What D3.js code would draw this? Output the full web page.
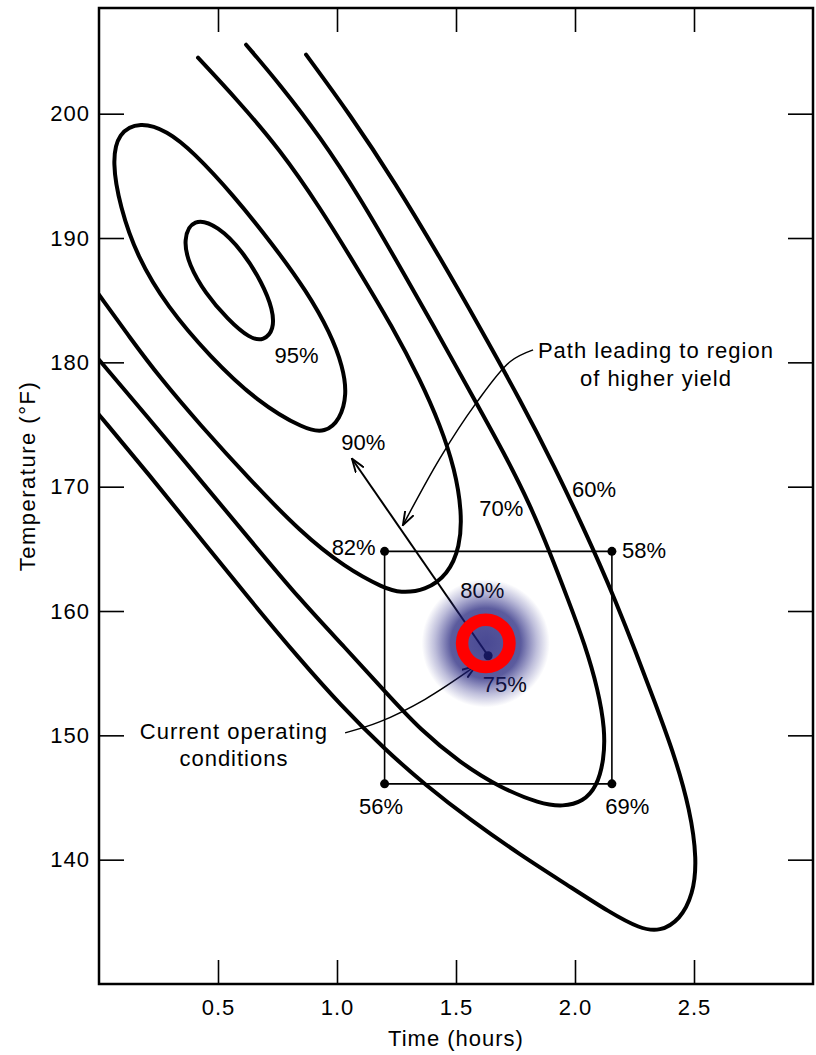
<!DOCTYPE html>
<html>
<head>
<meta charset="utf-8">
<script src="https://cdnjs.cloudflare.com/ajax/libs/d3/7.8.5/d3.min.js"></script>
<style>
  body { margin: 0; background: #fff; }
  svg text { font-family: "Liberation Sans", Arial, Helvetica, sans-serif; fill: #000; }
</style>
</head>
<body>
<div id="chart"></div>
<script>
// yield contours as [time (hours), temperature (°F)]
const contour95 = [[0.395,191.64],[0.500,190.99],[0.605,188.90],[0.685,186.41],[0.731,184.24],[0.735,182.63],
  [0.693,181.74],[0.634,181.90],[0.542,183.43],[0.445,185.60],[0.378,187.86],[0.353,189.87]];
const contour90 = [[0.172,199.36],[0.286,198.63],[0.395,196.94],[0.563,193.49],[0.731,189.46],[0.874,185.68],
  [0.971,182.39],[1.025,179.65],[1.042,177.40],[1.013,175.39],[0.950,174.34],[0.866,174.58],[0.664,176.84],
  [0.466,180.46],[0.286,184.48],[0.160,188.50],[0.088,192.52],[0.055,196.14],[0.080,198.47]];
const contour80 = [[0.416,204.50],[0.580,201.13],[0.761,197.10],[0.929,192.44],[1.084,187.61],[1.235,182.79],
  [1.349,178.61],[1.433,174.99],[1.496,171.37],[1.525,167.91],[1.517,165.17],[1.466,162.92],[1.370,161.63],
  [1.265,161.47],[1.202,161.80],[1.034,163.49],[0.845,166.38],[0.634,170.57],[0.424,174.99],[0.256,178.77],
  [0.130,181.98],[0,185.44]];
const contour70 = [[0.618,205.55],[0.761,202.33],[0.929,198.15],[1.097,193.24],[1.252,188.10],[1.403,183.03],
  [1.559,177.64],[1.706,172.57],[1.811,168.55],[1.895,164.69],[1.971,160.91],[2.042,157.29],[2.097,153.67],
  [2.126,150.46],[2.122,148.04],[2.092,145.87],[2.034,144.66],[1.950,144.26],[1.853,144.50],[1.685,145.79],
  [1.517,147.80],[1.349,150.46],[1.202,153.51],[1.034,157.05],[0.845,160.91],[0.634,165.74],[0.424,170.57],
  [0.214,175.39],[0,180.21]];
const contour60 = [[0.870,204.75],[1.055,199.92],[1.244,194.45],[1.433,188.42],[1.601,182.79],[1.769,177.00],
  [1.916,171.53],[2.029,166.94],[2.105,163.73],[2.168,160.91],[2.252,156.89],[2.336,152.63],[2.420,148.28],
  [2.483,144.02],[2.513,140.00],[2.496,137.18],[2.441,135.17],[2.357,134.21],[2.273,134.45],[2.147,135.74],
  [1.966,137.99],[1.769,140.40],[1.559,143.22],[1.370,146.03],[1.202,148.85],[1.013,152.47],[0.845,156.09],
  [0.634,160.91],[0.424,165.90],[0.214,170.88],[0,175.79]];

const contourLabels = [["95%",0.83,180.6],["90%",1.11,173.6],["80%",1.61,161.7],["70%",1.69,168.3],["60%",2.08,169.8]];

// factorial design around current conditions
const designTimes = [1.2, 2.155];
const designTemps = [146.1, 164.8];
const currentPoint = [1.635, 156.4];
const designLabels = [["82%",1.07,165.1],["58%",2.29,164.85],["56%",1.185,144.3],["69%",2.22,144.3],["75%",1.705,154.1]];
const steepestPath = [currentPoint, [1.063,172.25]];

// notes and their pointers
const pathNote = ["Path leading to region", "of higher yield"];
const pathNoteAt = [2.34, 181.0];
const pathPointer = [[1.824,181.0],[1.727,180.05],[1.58,176.6],[1.433,172.3],[1.277,166.9]];
const currentNote = ["Current operating", "conditions"];
const currentNoteAt = [0.567, 150.3];
const currentPointer = [[1.034,150.2],[1.181,151.1],[1.37,152.9],[1.584,155.6]];
const highlight = [1.625, 157.4];

const timeTicks = [0.5, 1.0, 1.5, 2.0, 2.5];
const tempTicks = [140, 150, 160, 170, 180, 190, 200];

const W = 816, H = 1055;
const x = d3.scaleLinear().domain([0, 3]).range([99, 813]);
const y = d3.scaleLinear().domain([130, 208.5]).range([984, 8]);

const svg = d3.select("#chart").append("svg")
  .attr("width", W).attr("height", H);

const defs = svg.append("defs");
defs.append("clipPath").attr("id", "plot")
  .append("rect").attr("x", x(0)).attr("y", y(208.5))
  .attr("width", x(3) - x(0)).attr("height", y(130) - y(208.5));

defs.append("marker").attr("id", "head")
  .attr("viewBox", "0 -5 14 10").attr("refX", 13).attr("refY", 0)
  .attr("markerWidth", 15).attr("markerHeight", 11)
  .attr("markerUnits", "userSpaceOnUse").attr("orient", "auto")
  .append("path").attr("d", "M0,-4.5L13,0L0,4.5")
  .attr("fill", "none").attr("stroke", "#000").attr("stroke-width", 1.8);

const grad = defs.append("radialGradient").attr("id", "glow");
grad.append("stop").attr("offset", "0%").attr("stop-color", "#1c1c78").attr("stop-opacity", 0.8);
grad.append("stop").attr("offset", "55%").attr("stop-color", "#1c1c78").attr("stop-opacity", 0.72);
grad.append("stop").attr("offset", "80%").attr("stop-color", "#2a2a88").attr("stop-opacity", 0.3);
grad.append("stop").attr("offset", "100%").attr("stop-color", "#2a2a88").attr("stop-opacity", 0);

// axes, ticks point inwards on every side
const font = "'Liberation Sans', Arial, Helvetica, sans-serif";
function styleAxis(g) {
  g.select(".domain").remove();
  g.selectAll(".tick line").attr("stroke-width", 1.6);
  g.attr("font-size", 22).attr("font-family", font);
  g.selectAll("text").attr("letter-spacing", 1);
}
svg.append("g").attr("transform", `translate(${x(0)},0)`)
  .call(d3.axisLeft(y).tickValues(tempTicks).tickSizeInner(-25).tickSizeOuter(0).tickPadding(9).tickFormat(d3.format("d")))
  .call(styleAxis);
svg.append("g").attr("transform", `translate(${x(3)},0)`)
  .call(d3.axisRight(y).tickValues(tempTicks).tickSizeInner(-25).tickSizeOuter(0).tickFormat(""))
  .call(styleAxis);
svg.append("g").attr("transform", `translate(0,${y(130)})`)
  .call(d3.axisBottom(x).tickValues(timeTicks).tickSizeInner(-24).tickSizeOuter(0).tickPadding(15).tickFormat(d3.format(".1f")))
  .call(styleAxis);
svg.append("g").attr("transform", `translate(0,${y(208.5)})`)
  .call(d3.axisTop(x).tickValues(timeTicks).tickSizeInner(-24).tickSizeOuter(0).tickFormat(""))
  .call(styleAxis);

svg.append("rect")
  .attr("x", x(0)).attr("y", y(208.5))
  .attr("width", x(3) - x(0)).attr("height", y(130) - y(208.5))
  .attr("fill", "none").attr("stroke", "#000").attr("stroke-width", 2.5);

svg.append("text")
  .attr("x", x(1.5)).attr("y", 1038).attr("dy", "0.35em")
  .attr("text-anchor", "middle").attr("font-size", 22).attr("letter-spacing", 1)
  .text("Time (hours)");
svg.append("text")
  .attr("transform", "translate(27,476) rotate(-90)").attr("dy", "0.35em")
  .attr("text-anchor", "middle").attr("font-size", 22).attr("letter-spacing", 1.5)
  .text("Temperature (°F)");

// contours, smoothed through the read points
const openLine = d3.line().x(d => x(d[0])).y(d => y(d[1])).curve(d3.curveBasis);
const closedLine = d3.line().x(d => x(d[0])).y(d => y(d[1])).curve(d3.curveBasisClosed);
const pointerLine = d3.line().x(d => x(d[0])).y(d => y(d[1])).curve(d3.curveCatmullRom.alpha(0.5));

const plot = svg.append("g").attr("clip-path", "url(#plot)");
plot.selectAll("path.closed")
  .data([contour95, contour90])
  .join("path").attr("class", "closed")
  .attr("d", closedLine)
  .attr("fill", "none").attr("stroke", "#000").attr("stroke-width", 4);
plot.selectAll("path.open")
  .data([contour80, contour70, contour60])
  .join("path").attr("class", "open")
  .attr("d", openLine)
  .attr("fill", "none").attr("stroke", "#000").attr("stroke-width", 4)
  .attr("stroke-linecap", "round");

svg.selectAll("text.clabel")
  .data(contourLabels)
  .join("text").attr("class", "clabel")
  .attr("x", d => x(d[1])).attr("y", d => y(d[2])).attr("dy", "0.35em")
  .attr("text-anchor", "middle").attr("font-size", 22)
  .text(d => d[0]);

// design square
const corners = [
  [designTimes[0], designTemps[1]], [designTimes[1], designTemps[1]],
  [designTimes[1], designTemps[0]], [designTimes[0], designTemps[0]]
];
svg.append("path")
  .attr("d", d3.line().x(d => x(d[0])).y(d => y(d[1]))(corners) + "Z")
  .attr("fill", "none").attr("stroke", "#000").attr("stroke-width", 1.6);
svg.selectAll("circle.pt")
  .data(corners.concat([currentPoint]))
  .join("circle").attr("class", "pt")
  .attr("cx", d => x(d[0])).attr("cy", d => y(d[1])).attr("r", 4.5)
  .attr("fill", "#000");
svg.selectAll("text.dlabel")
  .data(designLabels)
  .join("text").attr("class", "dlabel")
  .attr("x", d => x(d[1])).attr("y", d => y(d[2])).attr("dy", "0.35em")
  .attr("text-anchor", "middle").attr("font-size", 22)
  .text(d => d[0]);

svg.append("path")
  .attr("d", d3.line().x(d => x(d[0])).y(d => y(d[1]))(steepestPath))
  .attr("fill", "none").attr("stroke", "#000").attr("stroke-width", 2)
  .attr("marker-end", "url(#head)");

// notes
function note(lines, at, spacing) {
  const t = svg.append("text")
    .attr("x", x(at[0])).attr("y", y(at[1])).attr("dy", "0.35em")
    .attr("text-anchor", "middle").attr("font-size", 22).attr("letter-spacing", 1);
  lines.forEach((s, i) => {
    t.append("tspan").attr("x", x(at[0])).attr("dy", i ? spacing : "0.35em").text(s);
  });
}
note(pathNote, pathNoteAt, 28);
note(currentNote, currentNoteAt, 27);

[pathPointer, currentPointer].forEach(p => {
  svg.append("path")
    .attr("d", pointerLine(p))
    .attr("fill", "none").attr("stroke", "#000").attr("stroke-width", 1.5)
    .attr("marker-end", "url(#head)");
});

// highlight over the current operating point
svg.append("circle")
  .attr("cx", x(highlight[0])).attr("cy", y(highlight[1])).attr("r", 64)
  .attr("fill", "url(#glow)");
svg.append("circle")
  .attr("cx", x(highlight[0])).attr("cy", y(highlight[1])).attr("r", 23.7)
  .attr("fill", "none").attr("stroke", "#ff0000").attr("stroke-width", 12.5);
</script>
</body>
</html>
